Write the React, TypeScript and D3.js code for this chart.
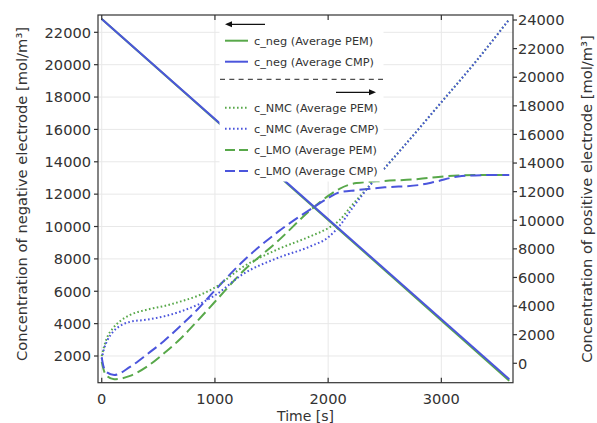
import React from "react";
import * as d3 from "d3";

const W = 597, H = 423;
const M = { left: 98, right: 513, top: 15, bottom: 382.7 };

// time ticks
const xTicks = [0, 1000, 2000, 3000];
const yLeftTicks = [2000, 4000, 6000, 8000, 10000, 12000, 14000, 16000, 18000, 20000, 22000];
const yRightTicks = [0, 2000, 4000, 6000, 8000, 10000, 12000, 14000, 16000, 18000, 20000, 22000, 24000];

// c_neg (left axis)
const negTime = [0, 3600];
const negPEM = [22830, 470];
const negCMP = [22830, 560];

// c_NMC (right axis)
const nmcTime = [0, 20, 50, 100, 170, 250, 400, 550, 700, 850, 1000, 1250, 1550, 1850, 2000, 2100, 2200, 2300, 2500, 2650, 3000, 3300, 3600];
const nmcPEM = [500, 1150, 1850, 2450, 3000, 3380, 3750, 4000, 4330, 4720, 5300, 6750, 7950, 8900, 9450, 10000, 10950, 11850, 13650, 15000, 18250, 21050, 24050];
const nmcCMP = [300, 1000, 1600, 2200, 2650, 2900, 3050, 3280, 3630, 4100, 4750, 6250, 7350, 8200, 8800, 9600, 10700, 11750, 13650, 15000, 18250, 21050, 24050];

// c_LMO (right axis)
const lmoTime = [0, 15, 40, 110, 250, 400, 550, 700, 850, 1000, 1250, 1550, 1850, 2000, 2100, 2250, 2500, 2800, 2950, 3150, 3350, 3600];
const lmoPEM = [100, -400, -850, -1120, -880, -230, 700, 1750, 3000, 4300, 6450, 8500, 10750, 11700, 12200, 12600, 12750, 12880, 13010, 13130, 13165, 13170];
const lmoCMP = [400, -200, -600, -820, -250, 620, 1560, 2650, 3800, 5100, 7150, 9150, 10800, 11550, 11950, 12100, 12300, 12460, 12700, 13060, 13150, 13170];

const GREEN = "#58a84a";
const BLUE = "#4b55dc";
const FONT = "DejaVu Sans";
const TXT = "#333";

export default function App() {
  const x = d3.scaleLinear().domain([-33, 3633]).range([M.left, M.right]);
  const yL = d3.scaleLinear().domain([350, 23070]).range([M.bottom, M.top]);
  const yR = d3.scaleLinear().domain([-1357, 24350]).range([M.bottom, M.top]);

  const mk = (ts: number[], vs: number[], y: d3.ScaleLinear<number, number>) =>
    d3.line<number>().x((_, i) => x(ts[i])).y((v) => y(v)).curve(d3.curveMonotoneX)(vs) || "";

  const series = [
    { d: mk(lmoTime, lmoPEM, yR), c: GREEN, dash: "11,5" },
    { d: mk(lmoTime, lmoCMP, yR), c: BLUE, dash: "11,5" },
    { d: mk(nmcTime, nmcPEM, yR), c: GREEN, dash: "1.6,2.4" },
    { d: mk(nmcTime, nmcCMP, yR), c: BLUE, dash: "1.6,2.4" },
    { d: mk(negTime, negPEM, yL), c: GREEN, dash: "" },
    { d: mk(negTime, negCMP, yL), c: BLUE, dash: "" },
  ];

  const legendItems = [
    { label: "c_neg (Average PEM)", c: GREEN, dash: "", y: 40.7 },
    { label: "c_neg (Average CMP)", c: BLUE, dash: "", y: 61.7 },
    { label: "c_NMC (Average PEM)", c: GREEN, dash: "1.6,2.4", y: 107.7 },
    { label: "c_NMC (Average CMP)", c: BLUE, dash: "1.6,2.4", y: 128.7 },
    { label: "c_LMO (Average PEM)", c: GREEN, dash: "10,4", y: 150 },
    { label: "c_LMO (Average CMP)", c: BLUE, dash: "10,4", y: 171 },
  ];

  return (
    <svg width={W} height={H} style={{ position: "absolute", left: 0, top: 0, background: "#fff" }}
      fontFamily={FONT}>
      <defs>
        <clipPath id="plot">
          <rect x={M.left} y={M.top} width={M.right - M.left} height={M.bottom - M.top} />
        </clipPath>
      </defs>
      <rect x={0} y={0} width={W} height={H} fill="#fff" />
      {/* grid */}
      <g stroke="#e8e8e8" strokeWidth={1}>
        {xTicks.map((t) => (
          <line key={"gx" + t} x1={x(t)} x2={x(t)} y1={M.top} y2={M.bottom} />
        ))}
        {yLeftTicks.map((t) => (
          <line key={"gy" + t} x1={M.left} x2={M.right} y1={yL(t)} y2={yL(t)} />
        ))}
      </g>
      {/* data */}
      <g clipPath="url(#plot)" fill="none" strokeWidth={2}>
        {series.map((s, i) => (
          <path key={i} d={s.d} stroke={s.c} strokeDasharray={s.dash || undefined} />
        ))}
      </g>
      {/* legend */}
      <g>
        <rect x={219.5} y={M.top + 1} width={164} height={165.5} fill="#fff" />
        <line x1={227} x2={265} y1={24.3} y2={24.3} stroke="#111" strokeWidth={1.3} />
        <path d="M225,24.3 L232,21.3 L232,27.3 Z" fill="#111" />
        <line x1={336} x2={374} y1={92.3} y2={92.3} stroke="#111" strokeWidth={1.3} />
        <path d="M376,92.3 L369,89.3 L369,95.3 Z" fill="#111" />
        <line x1={220} x2={383} y1={79.3} y2={79.3} stroke="#222" strokeWidth={1} strokeDasharray="5,4.3" />
        {legendItems.map((it) => (
          <g key={it.label}>
            <line x1={225} x2={248} y1={it.y} y2={it.y} stroke={it.c} strokeWidth={2}
              strokeDasharray={it.dash || undefined} />
            <text x={254} y={it.y} dy="0.35em" fontSize={11.3} fill={TXT}>{it.label}</text>
          </g>
        ))}
      </g>
      {/* frame */}
      <rect x={M.left} y={M.top} width={M.right - M.left} height={M.bottom - M.top}
        fill="none" stroke="#333" strokeWidth={1.2} />
      {/* ticks */}
      <g stroke="#333" strokeWidth={1.2}>
        {xTicks.map((t) => (
          <g key={"xt" + t}>
            <line x1={x(t)} x2={x(t)} y1={M.bottom} y2={M.bottom - 5} />
            <line x1={x(t)} x2={x(t)} y1={M.top} y2={M.top + 5} />
          </g>
        ))}
        {yLeftTicks.map((t) => (
          <line key={"yl" + t} x1={M.left - 4} x2={M.left} y1={yL(t)} y2={yL(t)} />
        ))}
        {yRightTicks.map((t) => (
          <line key={"yr" + t} x1={M.right} x2={M.right + 4} y1={yR(t)} y2={yR(t)} />
        ))}
      </g>
      <g fontSize={14.6} fill={TXT}>
        {xTicks.map((t) => (
          <text key={"xl" + t} x={x(t)} y={404} textAnchor="middle">{t}</text>
        ))}
        {yLeftTicks.map((t) => (
          <text key={"yll" + t} x={91} y={yL(t)} dy="0.36em" textAnchor="end">{t}</text>
        ))}
        {yRightTicks.map((t) => (
          <text key={"yrl" + t} x={518} y={yR(t)} dy="0.36em" textAnchor="start">{t}</text>
        ))}
      </g>
      <g fontSize={14.7} fill={TXT}>
        <text x={(M.left + M.right) / 2} y={421} fontSize={14} textAnchor="middle">Time [s]</text>
        <text transform={`translate(27,194) rotate(-90)`} textAnchor="middle">
          Concentration of negative electrode [mol/m³]
        </text>
        <text transform={`translate(592,199) rotate(-90)`} textAnchor="middle">
          Concentration of positive electrode [mol/m³]
        </text>
      </g>
    </svg>
  );
}
